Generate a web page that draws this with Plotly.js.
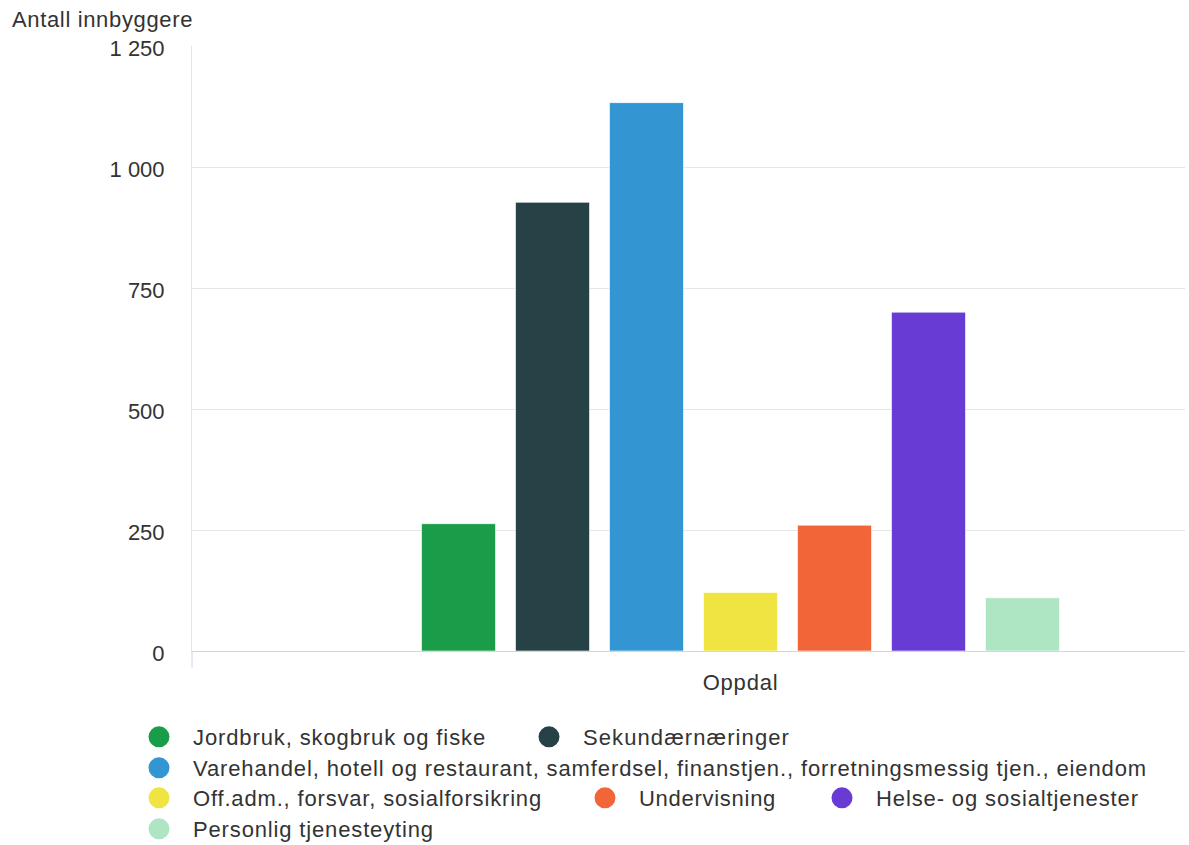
<!DOCTYPE html>
<html>
<head>
<meta charset="utf-8">
<script src="https://cdn.plot.ly/plotly-3.0.1.min.js"></script>
<style>
html,body{margin:0;padding:0;background:#fff;}
#chart{width:1189px;height:845px;}
.xtick text{letter-spacing:0.8px;}
.annotation-text{letter-spacing:0.65px;}
</style>
</head>
<body>
<div id="chart"></div>
<script>
// ---- data ----
const categories = ['Oppdal'];
const seriesNames = [
  'Jordbruk, skogbruk og fiske',
  'Sekundærnæringer',
  'Varehandel, hotell og restaurant, samferdsel, finanstjen., forretningsmessig tjen., eiendom',
  'Off.adm., forsvar, sosialforsikring',
  'Undervisning',
  'Helse- og sosialtjenester',
  'Personlig tjenesteyting'
];
const jordbruk = [263];
const sekundaer = [927];
const varehandel = [1133];
const offadm = [121];
const undervisning = [260];
const helse = [700];
const personlig = [110];
const seriesValues = [jordbruk, sekundaer, varehandel, offadm, undervisning, helse, personlig];
const colors = ['#1a9d49', '#274247', '#3396d2', '#f0e442', '#f26539', '#693bd5', '#aee5c3'];
const yTicks = [0, 250, 500, 750, 1000, 1250];
const yTitle = 'Antall innbyggere';

// legend entry placement (symbol centre, page pixels) and drawn text widths
const legendPos = [[159, 737], [549, 737], [159, 768], [159, 798], [605, 798], [842, 798], [159, 829]];
const legendTextWidth = [293, 207, 954, 349, 137, 263, 241];

const FONT = '"Liberation Sans", Arial, sans-serif';
const TXT = '#333333';
const W = 1189, H = 845;
const ITEMW = 58;
const LSIZE = 22;

// letter spacing so each legend label spans the same width as in the reference
const ctx = document.createElement('canvas').getContext('2d');
ctx.font = LSIZE + 'px "Liberation Sans", Arial, sans-serif';
function spaced(name, i) {
  const base = ctx.measureText(name).width;
  const ls = Math.max(0, (legendTextWidth[i] - base) / name.length);
  return '<span style="letter-spacing:' + ls.toFixed(2) + 'px">' + name + '</span>';
}

const traces = [];
seriesNames.forEach((name, i) => {
  traces.push({
    type: 'bar',
    x: categories,
    y: seriesValues[i],
    name: name,
    legendgroup: 'g' + i,
    showlegend: false,
    marker: {color: colors[i], line: {color: 'rgba(255,255,255,0.6)', width: 1}},
    hoverinfo: 'none'
  });
});
seriesNames.forEach((name, i) => {
  traces.push({
    type: 'scatter',
    mode: 'markers',
    x: [null],
    y: [null],
    name: spaced(name, i),
    legendgroup: 'g' + i,
    legend: i === 0 ? 'legend' : 'legend' + (i + 1),
    showlegend: true,
    marker: {color: colors[i], size: 16, symbol: 'circle', line: {color: colors[i], width: 5}},
    hoverinfo: 'none'
  });
});

const layout = {
  width: W,
  height: H,
  margin: {l: 192, r: 4, t: 46, b: 194},
  paper_bgcolor: '#ffffff',
  plot_bgcolor: '#ffffff',
  font: {family: FONT, size: 22, color: TXT},
  barmode: 'group',
  bargap: 0.2,
  bargroupgap: 0.213,
  showlegend: true,
  hovermode: false,
  xaxis: {
    type: 'category',
    range: [-0.6669, 0.5404],
    showgrid: false,
    showline: true,
    linecolor: '#ccd6eb',
    linewidth: 1,
    ticks: '',
    ticklabelstandoff: 12,
    tickfont: {family: FONT, size: 22, color: TXT},
    zeroline: false,
    fixedrange: true
  },
  yaxis: {
    range: [0, 1250],
    tickmode: 'array',
    tickvals: yTicks,
    separatethousands: true,
    showgrid: true,
    gridcolor: '#e6e6e6',
    gridwidth: 1,
    showline: true,
    linecolor: '#e6e6e6',
    zeroline: false,
    ticks: '',
    ticklabelstandoff: 22,
    ticklabelshift: 2,
    tickfont: {family: FONT, size: 22, color: TXT},
    fixedrange: true
  },
  separators: ', ',
  annotations: [{
    text: yTitle,
    xref: 'paper', yref: 'paper',
    x: -192 / 993 + 10 / 993, y: 1 + 26 / 605,
    xanchor: 'left', yanchor: 'middle',
    showarrow: false,
    font: {family: FONT, size: 22, color: TXT}
  }],
  shapes: [{
    type: 'line', xref: 'paper', yref: 'paper',
    x0: 0, x1: 0, y0: 0, y1: -17 / 605,
    line: {color: '#ccd6eb', width: 1}
  }]
};

legendPos.forEach((p, i) => {
  const key = i === 0 ? 'legend' : 'legend' + (i + 1);
  layout[key] = {
    orientation: 'h',
    xref: 'container',
    yref: 'container',
    x: (p[0] - (5 + ITEMW / 2)) / W,
    xanchor: 'left',
    y: 1 - p[1] / H,
    yanchor: 'middle',
    font: {family: FONT, size: LSIZE, color: TXT},
    itemwidth: ITEMW,
    bgcolor: 'rgba(0,0,0,0)'
  };
});

Plotly.newPlot('chart', traces, layout, {displayModeBar: false, staticPlot: true});
</script>
</body>
</html>
